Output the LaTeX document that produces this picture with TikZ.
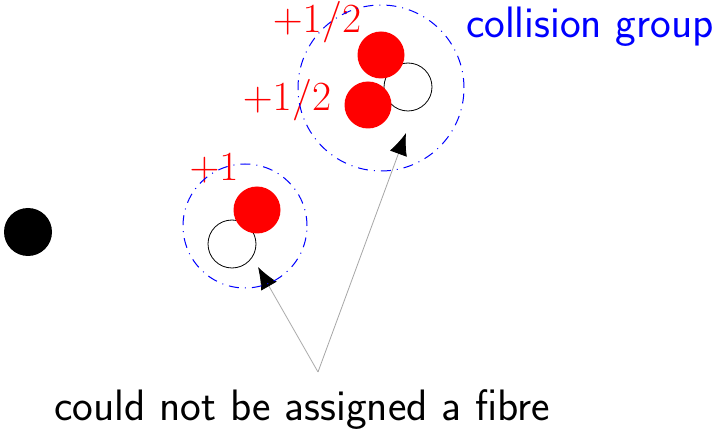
\documentclass[tikz,border=0pt]{standalone}
\usepackage{amsmath,amsfonts,amssymb}
\usepackage{xcolor}
\usepackage{tikz}
\usetikzlibrary{arrows.meta,positioning}

\begin{document}
\begin{tikzpicture}[
    x=0.5pt, y=-0.5pt,
    particle/.style={circle, fill=red, minimum size=23.5pt, inner sep=0pt},
    hole/.style={circle, draw, line width=0.4pt, minimum size=24pt, inner sep=0pt},
    blackdot/.style={circle, fill=black, minimum size=24pt, inner sep=0pt},
    group/.style={circle, draw=blue, line width=0.5pt, inner sep=0pt,
                  dash pattern=on 5pt off 3pt on 0.5pt off 3pt},
    charge/.style={text=red, inner sep=0pt, font=\fontsize{22}{25}\selectfont},
    caption/.style={inner sep=0pt, font=\sffamily\fontsize{22}{26}\selectfont},
    pointer/.style={draw=gray!70, line width=0.4pt,
                    -{Latex[length=11pt,width=9pt,color=black]}}
]
\useasboundingbox (0,0) rectangle (719,433);

% lone fibre
\node[blackdot] (lone) at (28,232) {};

% left group
\node[hole] (holeA) at (232,244) {};
\node[particle] (redA) at (257,210) {};
\node[charge] (chargeA) at (214,168) {$+1$};

% right group
\node[hole] (holeB) at (408,87) {};
\node[particle] (redB) at (381,55) {};
\node[particle] (redC) at (368,105) {};
\node[charge] (chargeB) at (317,22) {$+1/2$};
\node[charge] (chargeC) at (287,100) {$+1/2$};
\node[caption, text=blue] (grouplabel) at (590,27) {collision group};

% pointers
\node[caption] (note) at (302,410) {could not be assigned a fibre};
\coordinate (apex) at (318,372);
\coordinate (tipA) at (258,267);
\coordinate (tipB) at (406,133);
\draw[pointer] (apex) -- (tipA);
\draw[pointer] (apex) -- (tipB);

% collision circles
\node[group, minimum size=62pt] (groupA) at (245,226) {};
\node[group, minimum size=83pt] (groupB) at (381,88) {};
\end{tikzpicture}
\end{document}
